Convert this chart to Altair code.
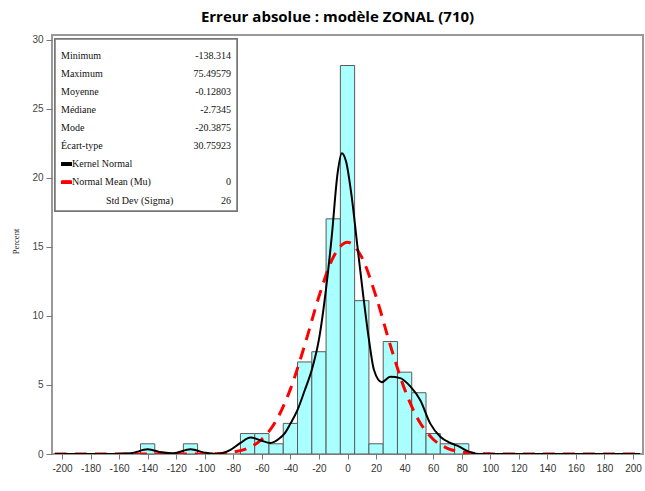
import altair as alt
import pandas as pd

# Histogram of absolute error (percent of observations per 10-unit bin)
bin_centers = [-140, -110, -70, -60, -50, -40, -30, -20, -10, 0,
               10, 20, 30, 40, 50, 60, 70, 80]
bin_percent = [0.74, 0.74, 1.48, 1.48, 0.74, 2.22, 6.67, 7.41, 17.04, 28.15,
               11.11, 0.74, 8.15, 5.93, 4.44, 1.48, 0.74, 0.74]
BIN_WIDTH = 10

# Kernel density estimate, scaled to percent per bin
kernel_x = [-205, -165, -152, -140, -130, -122, -110, -100, -92, -82,
            -75, -68, -61, -54, -48, -44, -40, -35, -30, -25,
            -20, -15, -11, -7, -4, -1, 3, 7, 11, 15,
            18.5, 24, 30, 37, 44, 51, 58, 65, 72, 78,
            85, 92, 205]
kernel_y = [0, 0, 0.05, 0.34, 0.12, 0.05, 0.34, 0.1, 0.0, 0.3,
            0.8, 1.2, 1.0, 0.8, 1.1, 1.5, 2.2, 3.2, 4.6, 6.1,
            8.3, 12.0, 15.8, 20.3, 21.8, 21.2, 18.6, 15.0, 11.5, 8.3,
            6.1, 5.2, 5.6, 5.5, 4.9, 3.9, 2.2, 1.25, 0.8, 0.55,
            0.17, 0, 0]

# Fitted normal curve (Mu = 0, Sigma = 26), scaled to percent per bin
normal_x = [-205, -110, -100, -90, -80, -70, -60, -50, -40, -30, -20, -10, 0,
            10, 20, 30, 40, 50, 60, 70, 80, 90, 100, 110, 205]
normal_y = [0, 0, 0.01, 0.04, 0.14, 0.41, 1.07, 2.41, 4.70, 7.88, 11.41, 14.25, 15.34,
            14.25, 11.41, 7.88, 4.70, 2.41, 1.07, 0.41, 0.14, 0.04, 0.01, 0, 0]

stat_labels = ["Minimum", "Maximum", "Moyenne", "Médiane", "Mode", "Écart-type",
               "Kernel  Normal", "Normal Mean (Mu)", "Std Dev (Sigma)"]
stat_values = ["-138.314", "75.49579", "-0.12803", "-2.7345", "-20.3875", "30.75923",
               "", "0", "26"]

x_ticks = list(range(-200, 201, 20))
y_ticks = [0, 5, 10, 15, 20, 25, 30]

W, H = 591, 419
x_scale = alt.Scale(domain=[-207, 207], nice=False, zero=False)
y_scale = alt.Scale(domain=[0, 30.36], nice=False)

# One axis definition shared by every layer, so the merged axes agree
x_axis = alt.Axis(values=x_ticks, title=None, grid=False, domain=False,
                  tickSize=5, tickColor="#777", labelPadding=4,
                  labelOverlap=False, labelExpr="'' + datum.value",
                  labelFont="Liberation Sans", labelFontSize=10,
                  labelColor="#333")
y_axis = alt.Axis(values=y_ticks, title="Percent", grid=False, domain=False,
                  tickSize=6, tickColor="#777", labelPadding=3,
                  labelOverlap=False,
                  labelFont="Liberation Sans", labelFontSize=10,
                  labelColor="#444",
                  titleFont="Liberation Serif", titleFontSize=8.5,
                  titleFontWeight="normal", titleColor="#222",
                  titleAngle=-90, titleX=-37, titleY=206,
                  titleAlign="center", titleBaseline="middle")

bars_df = pd.DataFrame({"center": bin_centers, "pct": bin_percent})
kernel_df = pd.DataFrame({"x": kernel_x, "y": kernel_y})
normal_df = pd.DataFrame({"x": normal_x, "y": normal_y})
stats_df = pd.DataFrame({"label": stat_labels, "value": stat_values,
                         "row": list(range(len(stat_labels)))})

bars = alt.Chart(bars_df).transform_calculate(
    lo=f"datum.center - {BIN_WIDTH / 2}", hi=f"datum.center + {BIN_WIDTH / 2}"
).mark_rect(fill="#aaffff", stroke="#5a5a5a", strokeWidth=1).encode(
    x=alt.X("lo:Q", scale=x_scale, axis=x_axis),
    x2="hi:Q",
    y=alt.Y("pct:Q", scale=y_scale, axis=y_axis),
    y2=alt.datum(0),
)

normal_line = alt.Chart(normal_df).mark_line(
    color="#ff0000", strokeWidth=3, strokeDash=[12, 8], interpolate="monotone", clip=True
).encode(x=alt.X("x:Q", scale=x_scale, axis=x_axis),
         y=alt.Y("y:Q", scale=y_scale, axis=y_axis))

kernel_line = alt.Chart(kernel_df).mark_line(
    color="#000000", strokeWidth=2, interpolate="monotone", clip=True
).encode(x=alt.X("x:Q", scale=x_scale, axis=x_axis),
         y=alt.Y("y:Q", scale=y_scale, axis=y_axis))

# Statistics inset
box = alt.Chart(bars_df).mark_rect(
    fill="white", stroke="#777", strokeWidth=1.5
).encode(x=alt.value(3), x2=alt.value(185), y=alt.value(4), y2=alt.value(176))

row_pos = "20.7 + datum.row * 18.1"
stat_text = alt.Chart(stats_df).transform_calculate(
    ly=row_pos,
    lx="datum.row < 6 ? 9 : (datum.row < 8 ? 20 : 54)",
).mark_text(align="left", baseline="middle", font="Liberation Serif",
            fontSize=10, color="#111").encode(
    x=alt.X("lx:Q", scale=None), y=alt.Y("ly:Q", scale=None), text="label:N"
)
stat_vals = alt.Chart(stats_df).transform_calculate(
    ly=row_pos
).mark_text(align="right", baseline="middle", font="Liberation Serif",
            fontSize=10, color="#111").encode(
    x=alt.value(179), y=alt.Y("ly:Q", scale=None), text="value:N"
)
key_kernel = alt.Chart(bars_df).mark_rule(color="black", strokeWidth=3).encode(
    x=alt.value(9.5), x2=alt.value(19.5), y=alt.value(129.3))
key_normal = alt.Chart(bars_df).mark_rule(color="#ff0000", strokeWidth=3).encode(
    x=alt.value(9.5), x2=alt.value(19.5), y=alt.value(147.4))

chart = alt.layer(
    bars, normal_line, kernel_line, box, stat_text, stat_vals, key_kernel, key_normal
).properties(
    width=W, height=H,
    title=alt.TitleParams("Erreur absolue : modèle ZONAL (710)", anchor="middle",
                          font="Open Sans", fontSize=15, fontWeight="bold",
                          color="#000", baseline="alphabetic", offset=14,
                          dx=-10, dy=16),
    padding={"left": 52, "top": 35, "right": 2, "bottom": 37},
    autosize=alt.AutoSizeParams(type="none"),
    background="white",
).configure_view(stroke="#999", strokeWidth=2)

chart.save("out.html", embed_options={"renderer": "svg", "actions": False})
